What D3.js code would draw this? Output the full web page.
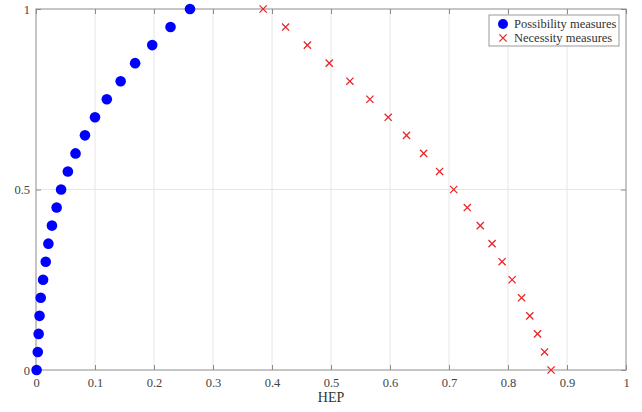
<!DOCTYPE html>
<html>
<head>
<meta charset="utf-8">
<script src="https://cdn.jsdelivr.net/npm/d3@7"></script>
<style>
  body { margin: 0; background: #fff; }
  svg text { font-family: "Liberation Serif", "Times New Roman", serif; }
</style>
</head>
<body>
<div id="chart"></div>
<script>
// y levels shared by both series
var levels = [0, 0.05, 0.1, 0.15, 0.2, 0.25, 0.3, 0.35, 0.4, 0.45, 0.5,
              0.55, 0.6, 0.65, 0.7, 0.75, 0.8, 0.85, 0.9, 0.95, 1];
var possibility = [0.001, 0.003, 0.0045, 0.006, 0.008, 0.012, 0.0165, 0.021, 0.027, 0.035, 0.0425,
                   0.054, 0.067, 0.083, 0.100, 0.120, 0.1435, 0.168, 0.197, 0.228, 0.261];
var necessity = [0.873, 0.862, 0.850, 0.837, 0.823, 0.807, 0.790, 0.773, 0.753, 0.731, 0.708,
                 0.684, 0.657, 0.628, 0.597, 0.566, 0.532, 0.497, 0.460, 0.423, 0.385];
var xTicks = [0, 0.1, 0.2, 0.3, 0.4, 0.5, 0.6, 0.7, 0.8, 0.9, 1];
var yTicks = [0, 0.5, 1];
var seriesNames = ["Possibility measures", "Necessity measures"];

var W = 642, H = 412;
var m = {left: 36, right: 16, top: 9, bottom: 42};
var serif = '"Liberation Serif", "Times New Roman", serif';

var svg = d3.select("#chart").append("svg")
    .attr("width", W).attr("height", H);

var x = d3.scaleLinear().domain([0, 1]).range([m.left, W - m.right]);
var y = d3.scaleLinear().domain([0, 1]).range([H - m.bottom, m.top]);

var fmt = function(d) { return String(d); };

// grid
svg.append("g").selectAll("line")
    .data(xTicks.slice(1, -1)).enter().append("line")
    .attr("x1", d => x(d)).attr("x2", d => x(d))
    .attr("y1", y(0)).attr("y2", y(1))
    .attr("stroke", "#e6e6e6").attr("stroke-width", 1);
svg.append("g").selectAll("line")
    .data(yTicks.slice(1, -1)).enter().append("line")
    .attr("y1", d => y(d)).attr("y2", d => y(d))
    .attr("x1", x(0)).attr("x2", x(1))
    .attr("stroke", "#e6e6e6").attr("stroke-width", 1);

// axes (inward ticks, MATLAB style)
var axisColor = "#8c8c8c";
function styleAxis(g) {
  g.attr("font-family", serif).attr("font-size", 12.5);
  g.select(".domain").remove();
  g.selectAll(".tick line").attr("stroke", axisColor);
  g.selectAll(".tick text").attr("fill", "#444");
}
svg.append("g").attr("transform", "translate(0," + y(0) + ")")
    .call(d3.axisBottom(x).tickValues(xTicks).tickFormat(fmt).tickSizeInner(-5).tickPadding(8))
    .call(styleAxis);
svg.append("g").attr("transform", "translate(0," + y(1) + ")")
    .call(d3.axisTop(x).tickValues(xTicks).tickFormat("").tickSizeInner(-5))
    .call(styleAxis);
svg.append("g").attr("transform", "translate(" + x(0) + ",0)")
    .call(d3.axisLeft(y).tickValues(yTicks).tickFormat(fmt).tickSizeInner(-5).tickPadding(6))
    .call(styleAxis);
svg.append("g").attr("transform", "translate(" + x(1) + ",0)")
    .call(d3.axisRight(y).tickValues(yTicks).tickFormat("").tickSizeInner(-5))
    .call(styleAxis);

// box
svg.append("rect")
    .attr("x", x(0)).attr("y", y(1))
    .attr("width", x(1) - x(0)).attr("height", y(0) - y(1))
    .attr("fill", "none").attr("stroke", axisColor).attr("stroke-width", 1);

// axis label
svg.append("text")
    .attr("x", x(0.5)).attr("y", y(0) + 32)
    .attr("text-anchor", "middle").attr("font-size", 14).attr("fill", "#333")
    .attr("font-family", serif)
    .text("HEP");

// markers
var blue = "#0000ff", red = "#e8262b";
svg.append("g").selectAll("circle")
    .data(levels).enter().append("circle")
    .attr("cx", (d, i) => x(possibility[i]))
    .attr("cy", d => y(d))
    .attr("r", 5.3)
    .attr("fill", blue);

var s = 3.6;
function cross(g, cx, cy) {
  g.append("path")
    .attr("d", "M" + (cx - s) + "," + (cy - s) + "L" + (cx + s) + "," + (cy + s) +
               "M" + (cx - s) + "," + (cy + s) + "L" + (cx + s) + "," + (cy - s))
    .attr("stroke", red).attr("stroke-width", 1.3).attr("fill", "none");
}
var crosses = svg.append("g");
levels.forEach(function(d, i) { cross(crosses, x(necessity[i]), y(d)); });

// legend
var lg = svg.append("g");
var lx = 489, ly = 15, lw = 130, lh = 31;
lg.append("rect").attr("x", lx).attr("y", ly).attr("width", lw).attr("height", lh)
    .attr("fill", "#fff").attr("stroke", "#999").attr("stroke-width", 1);
lg.append("circle").attr("cx", lx + 14).attr("cy", ly + 9).attr("r", 5).attr("fill", blue);
cross(lg, lx + 14, ly + 23);
lg.selectAll("text").data(seriesNames).enter().append("text")
    .attr("x", lx + 25).attr("y", (d, i) => ly + 13 + i * 14)
    .attr("font-size", 12.5).attr("fill", "#333").attr("font-family", serif)
    .text(d => d);
</script>
</body>
</html>
